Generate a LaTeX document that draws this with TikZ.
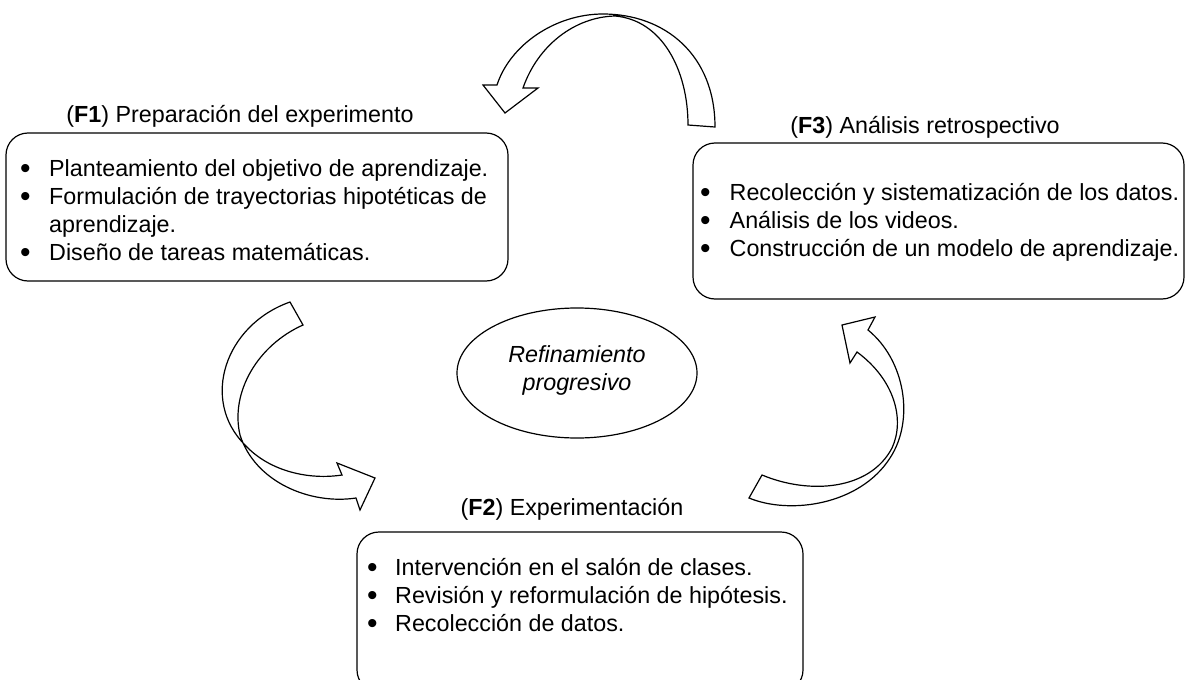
\documentclass[tikz,border=0pt]{standalone}
\usepackage{fontspec}
\setmainfont{Liberation Sans}
\usetikzlibrary{shapes.geometric}

\newcommand{\itemdot}{\smash{\raisebox{-2.5pt}{\fontsize{30}{28}\selectfont •}}}

\begin{document}
\begin{tikzpicture}[x=1pt, y=-1pt,
  phasebox/.style={draw=black, line width=1.2pt, rounded corners=22pt, inner sep=0pt},
  phasetitle/.style={anchor=base, inner sep=0pt, font=\fontsize{23.3}{28}\selectfont},
  itemlist/.style={anchor=base west, inner sep=0pt, font=\fontsize{23.3}{28}\selectfont},
  cyclearrow/.style={draw=black, fill=white, line width=1.2pt, line join=miter}]

\useasboundingbox (0,0) rectangle (1187,680);
\clip (0,0) rectangle (1187,680);

% phase frames
\node[phasebox, minimum width=502pt, minimum height=148pt] (f1box) at (257,207) {};
\node[phasebox, minimum width=491pt, minimum height=156pt] (f3box) at (938.5,221) {};
\node[phasebox, minimum width=446pt, minimum height=160pt] (f2box) at (580,612) {};

% phase titles
\node[phasetitle] (f1title) at (240,122) {(\textbf{F1}) Preparación del experimento};
\node[phasetitle] (f3title) at (925,133) {(\textbf{F3}) Análisis retrospectivo};
\node[phasetitle] (f2title) at (572,515) {(\textbf{F2}) Experimentación};

% phase contents
\node[itemlist] (f1items) at (20,176) {\begin{tabular}[t]{@{}l@{\hspace{18.5pt}}l@{}}
  \itemdot & Planteamiento del objetivo de aprendizaje.\\
  \itemdot & Formulación de trayectorias hipotéticas de\\
           & aprendizaje.\\
  \itemdot & Diseño de tareas matemáticas.
\end{tabular}};
\node[itemlist] (f3items) at (700,200) {\begin{tabular}[t]{@{}l@{\hspace{19pt}}l@{}}
  \itemdot & Recolección y sistematización de los datos.\\
  \itemdot & Análisis de los videos.\\
  \itemdot & Construcción de un modelo de aprendizaje.
\end{tabular}};
\node[itemlist] (f2items) at (367,575) {\begin{tabular}[t]{@{}l@{\hspace{17.5pt}}l@{}}
  \itemdot & Intervención en el salón de clases.\\
  \itemdot & Revisión y reformulación de hipótesis.\\
  \itemdot & Recolección de datos.
\end{tabular}};

% centre of the cycle
\node[draw=black, line width=1.2pt, ellipse, minimum width=240pt, minimum height=130pt,
      inner sep=0pt] (core) at (577,373) {};
\node[align=center, inner sep=0pt, font=\fontsize{23.3}{28}\selectfont\itshape]
      (coretext) at (577,370) {Refinamiento\\progresivo};

% curved block arrows: F3 -> F1 (top)
\draw[cyclearrow] (715,127) .. controls (715,55) and (665,14) .. (603,14)
  .. controls (555,14) and (510,45) .. (497,85) -- (483,85) -- (505,113) -- (538,88) -- (523,88)
  .. controls (538,45) and (575,17) .. (615,16)
  .. controls (662,20) and (688,70) .. (688,125) -- cycle;

% F1 -> F2 (left)
\draw[cyclearrow] (290,302) .. controls (225,325) and (200,400) .. (245,445)
  .. controls (270,472) and (310,480) .. (342,475) -- (337,463) -- (375,478) -- (360,510) -- (356,498)
  .. controls (310,505) and (255,482) .. (240,435)
  .. controls (230,392) and (258,345) .. (303,325) -- cycle;

% F2 -> F3 (right)
\draw[cyclearrow] (762,475) .. controls (810,495) and (870,490) .. (892,448)
  .. controls (905,420) and (895,380) .. (857,352) -- (850,363) -- (842,325) -- (875,317) -- (868,330)
  .. controls (905,360) and (915,420) .. (890,458)
  .. controls (860,505) and (790,515) .. (749,498) -- cycle;

\end{tikzpicture}
\end{document}
